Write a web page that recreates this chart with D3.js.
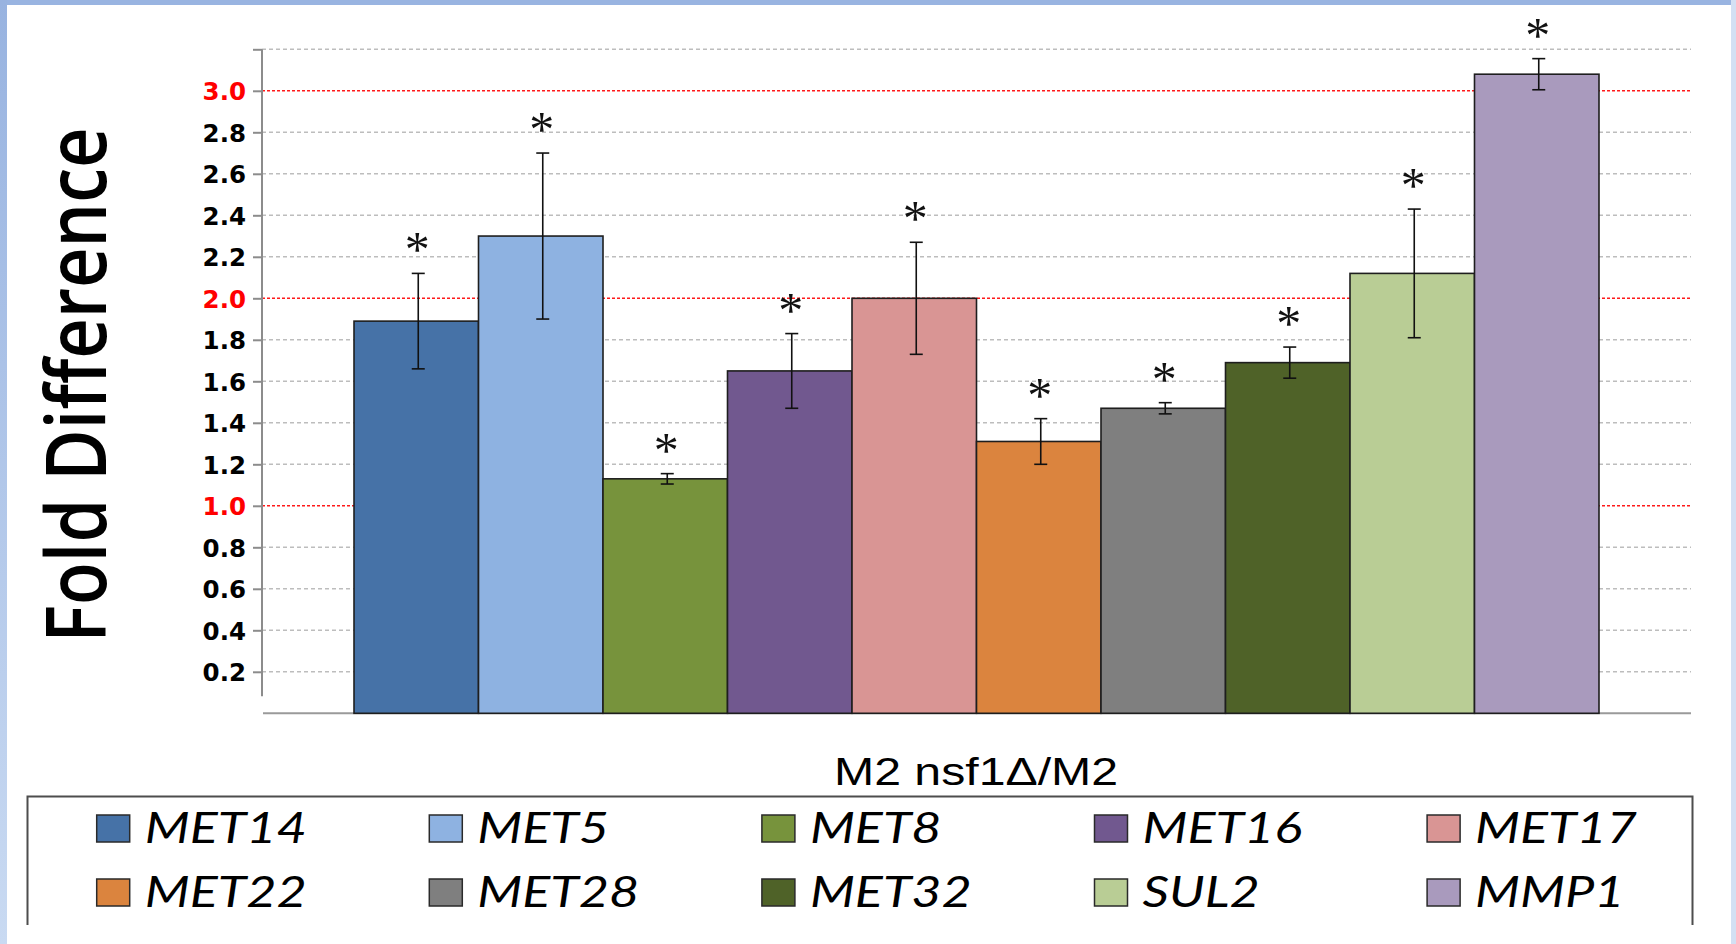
<!DOCTYPE html>
<html>
<head>
<meta charset="utf-8">
<script src="https://cdn.jsdelivr.net/npm/d3@7"></script>
<style>
  html, body { margin: 0; padding: 0; background: #ffffff; }
  svg { display: block; }
</style>
</head>
<body>
<svg id="chart" width="1736" height="944"></svg>
<script>
// Genes compared (M2 nsf1Δ / M2), mean fold difference and error
const categories = ["MET14", "MET5", "MET8", "MET16", "MET17", "MET22", "MET28", "MET32", "SUL2", "MMP1"];
const foldValues = [1.89, 2.30, 1.13, 1.65, 2.00, 1.31, 1.47, 1.69, 2.12, 3.08];
const errorValues = [0.23, 0.40, 0.025, 0.18, 0.27, 0.11, 0.027, 0.075, 0.31, 0.075];
const significant = [true, true, true, true, true, true, true, true, true, true];
const barColors = ["#4672a7", "#8eb2e1", "#77933c", "#71588f", "#d99594", "#db843e", "#7f7f7f", "#4f6228", "#b9cd95", "#a99abd"];

// Y axis ticks; the top tick carries no label
const tickValues = [0.2, 0.4, 0.6, 0.8, 1.0, 1.2, 1.4, 1.6, 1.8, 2.0, 2.2, 2.4, 2.6, 2.8, 3.0, 3.2];
const tickLabels = ["0.2", "0.4", "0.6", "0.8", "1.0", "1.2", "1.4", "1.6", "1.8", "2.0", "2.2", "2.4", "2.6", "2.8", "3.0", ""];
const thresholdLines = [1.0, 2.0, 3.0];

const yTitle = "Fold Difference";
const xTitle = "M2 nsf1\u0394/M2";

const svg = d3.select("#chart");
const W = 1736, H = 944;

// Slide frame
const defs = svg.append("defs");
const grad = defs.append("linearGradient").attr("id", "frameGrad")
  .attr("x1", 0).attr("y1", 0).attr("x2", 0).attr("y2", 1);
grad.append("stop").attr("offset", "0%").attr("stop-color", "#98b3e0");
grad.append("stop").attr("offset", "100%").attr("stop-color", "#c9daf2");
svg.append("rect").attr("x", 0).attr("y", 0).attr("width", W).attr("height", 5).attr("fill", "#99b4e1");
svg.append("rect").attr("x", 0).attr("y", 0).attr("width", 7).attr("height", H).attr("fill", "url(#frameGrad)");
svg.append("rect").attr("x", 1731).attr("y", 0).attr("width", 5).attr("height", H).attr("fill", "#d3e0f3");

// Scales
const plotLeft = 262, plotRight = 1691;
const y = d3.scaleLinear().domain([0, 3.2]).range([713.3, 49.3]);
const x = d3.scaleBand().domain(categories).range([plotLeft, plotRight]).paddingInner(0).paddingOuter(0.739);

// Gridlines (behind bars)
const grid = svg.append("g");
grid.selectAll("line.grid")
  .data(tickValues.filter(v => !thresholdLines.includes(v)))
  .join("line")
  .attr("x1", plotLeft).attr("x2", plotRight)
  .attr("y1", d => y(d)).attr("y2", d => y(d))
  .attr("stroke", "#bdbdbd").attr("stroke-width", 1.6)
  .attr("stroke-dasharray", "4,3");
grid.selectAll("line.thr")
  .data(thresholdLines)
  .join("line")
  .attr("x1", plotLeft).attr("x2", plotRight)
  .attr("y1", d => y(d)).attr("y2", d => y(d))
  .attr("stroke", "#ff1a1a").attr("stroke-width", 1.6)
  .attr("stroke-dasharray", "3,2");

// Y axis with ticks and labels
const yAxis = d3.axisLeft(y)
  .tickValues(tickValues)
  .tickSize(9)
  .tickSizeOuter(0)
  .tickPadding(7)
  .tickFormat((d, i) => tickLabels[i]);
const axisG = svg.append("g").attr("transform", `translate(${plotLeft},0)`).call(yAxis);
axisG.select(".domain").remove();
axisG.selectAll(".tick line").attr("stroke", "#8c8c8c").attr("stroke-width", 2);
axisG.selectAll(".tick text")
  .attr("font-family", "'DejaVu Sans', Verdana, sans-serif")
  .attr("font-weight", "bold")
  .attr("font-size", 24.5)
  .attr("dy", "0.36em")
  .attr("fill", d => thresholdLines.includes(d) ? "#ff0000" : "#000000");
svg.append("line")
  .attr("x1", plotLeft).attr("x2", plotLeft)
  .attr("y1", y(3.2)).attr("y2", y(0) - 17)
  .attr("stroke", "#8c8c8c").attr("stroke-width", 2);

// Baseline
svg.append("line")
  .attr("x1", plotLeft + 1).attr("x2", plotRight)
  .attr("y1", y(0)).attr("y2", y(0))
  .attr("stroke", "#9a9a9a").attr("stroke-width", 2);

// Bars
const rows = categories.map((c, i) => ({ cat: c, v: foldValues[i], e: errorValues[i], sig: significant[i], color: barColors[i] }));
svg.append("g").selectAll("rect")
  .data(rows)
  .join("rect")
  .attr("x", d => x(d.cat))
  .attr("width", x.bandwidth())
  .attr("y", d => y(d.v))
  .attr("height", d => y(0) - y(d.v))
  .attr("fill", d => d.color)
  .attr("stroke", "#1e1e1e")
  .attr("stroke-width", 1.6);

// Error bars
const capHalf = 6.5;
const eb = svg.append("g").attr("stroke", "#111").attr("stroke-width", 1.6);
rows.forEach(d => {
  const cx = x(d.cat) + x.bandwidth() / 2 + 2;
  eb.append("line").attr("x1", cx).attr("x2", cx).attr("y1", y(d.v + d.e)).attr("y2", y(d.v - d.e));
  eb.append("line").attr("x1", cx - capHalf).attr("x2", cx + capHalf).attr("y1", y(d.v + d.e)).attr("y2", y(d.v + d.e));
  eb.append("line").attr("x1", cx - capHalf).attr("x2", cx + capHalf).attr("y1", y(d.v - d.e)).attr("y2", y(d.v - d.e));
});

// Significance markers
svg.append("g").selectAll("text")
  .data(rows.filter(d => d.sig))
  .join("text")
  .attr("x", d => x(d.cat) + x.bandwidth() / 2 + 1)
  .attr("y", d => y(d.v + d.e) - 7)
  .attr("text-anchor", "middle")
  .attr("font-family", "'Liberation Serif', 'Times New Roman', serif")
  .attr("font-size", 50)
  .attr("fill", "#111")
  .text("*");

// Y axis title
svg.append("text")
  .attr("transform", "translate(106,385) rotate(-90)")
  .attr("text-anchor", "middle")
  .attr("font-family", "'Open Sans', 'Noto Sans', sans-serif")
  .attr("font-weight", 600)
  .attr("font-size", 84)
  .attr("textLength", 515)
  .attr("lengthAdjust", "spacingAndGlyphs")
  .attr("fill", "#000")
  .text(yTitle);

// X axis title
svg.append("text")
  .attr("x", 976)
  .attr("y", 785)
  .attr("text-anchor", "middle")
  .attr("font-family", "'Liberation Sans', Arial, sans-serif")
  .attr("font-size", 39)
  .attr("textLength", 284)
  .attr("lengthAdjust", "spacingAndGlyphs")
  .attr("fill", "#000")
  .text(xTitle);

// Legend frame (open at the bottom)
svg.append("path")
  .attr("d", "M27.5,925 V796.5 H1692.5 V925")
  .attr("fill", "none")
  .attr("stroke", "#4d4d4d")
  .attr("stroke-width", 2);

const legend = svg.append("g");
const colStep = 332.6, firstCol = 96.7, firstRowTop = 815, rowStep = 64;
const items = legend.selectAll("g.item")
  .data(rows)
  .join("g")
  .attr("class", "item")
  .attr("transform", (d, i) => `translate(${firstCol + (i % 5) * colStep},${firstRowTop + Math.floor(i / 5) * rowStep})`);
items.append("rect")
  .attr("x", 0).attr("y", 0).attr("width", 33).attr("height", 27)
  .attr("fill", d => d.color)
  .attr("stroke", "#2a2a2a").attr("stroke-width", 1.5);
const labels = items.append("text")
  .attr("font-family", "Lato, 'Open Sans', sans-serif")
  .attr("font-style", "italic")
  .attr("font-size", 42)
  .attr("fill", "#000")
  .text(d => d.cat);
// Horizontal stretch so that the first label spans its measured width
const refWidth = labels.nodes()[0].getComputedTextLength();
const stretch = refWidth > 0 ? 162 / refWidth : 1.2;
labels.attr("transform", `translate(48,28) scale(${stretch},1)`);
</script>
</body>
</html>
